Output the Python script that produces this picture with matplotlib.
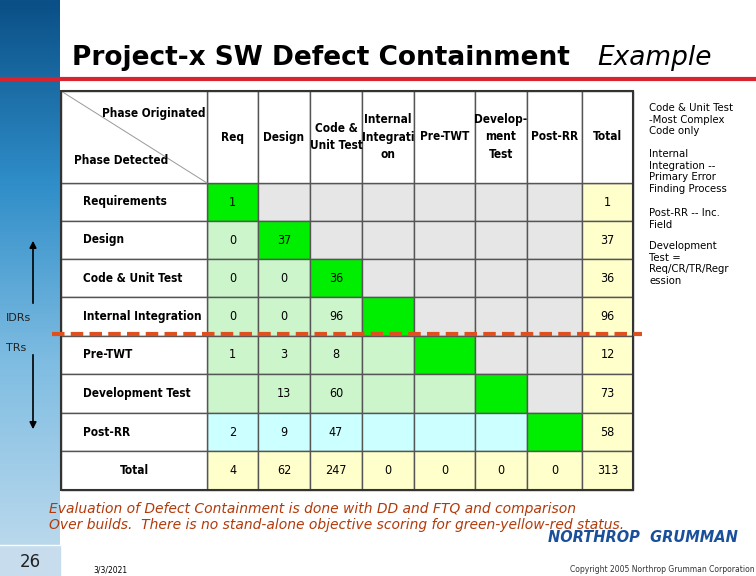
import numpy as np
import matplotlib.pyplot as plt
from matplotlib.patches import Rectangle
from matplotlib.colors import LinearSegmentedColormap

row_labels = ["Requirements", "Design", "Code & Unit Test", "Internal Integration",
              "Pre-TWT", "Development Test", "Post-RR", "Total"]
col_labels = ["Req", "Design", "Code &\nUnit Test", "Internal\nIntegrati\non",
              "Pre-TWT", "Develop-\nment\nTest", "Post-RR", "Total"]
# values per row (None = blank); last entry = Total column
values = [
    [1, None, None, None, None, None, None, 1],
    [0, 37, None, None, None, None, None, 37],
    [0, 0, 36, None, None, None, None, 36],
    [0, 0, 96, None, None, None, None, 96],
    [1, 3, 8, None, None, None, None, 12],
    [None, 13, 60, None, None, None, None, 73],
    [2, 9, 47, None, None, None, None, 58],
    [4, 62, 247, 0, 0, 0, 0, 313],
]
notes = ["Code & Unit Test\n-Most Complex\nCode only",
         "Internal\nIntegration --\nPrimary Error\nFinding Process",
         "Post-RR -- Inc.\nField",
         "Development\nTest =\nReq/CR/TR/Regr\nession"]
note_y = [103, 149, 208, 241]

TXT = dict(family="DejaVu Sans", fontstretch="condensed")

W, H = 756, 576
fig = plt.figure(figsize=(W / 100, H / 100), dpi=100)
ax = fig.add_axes([0, 0, 1, 1])
ax.set_xlim(0, W)
ax.set_ylim(H, 0)
ax.axis("off")

# left blue strip
grad = np.linspace(0, 1, 256).reshape(-1, 1)
cmap = LinearSegmentedColormap.from_list("b", ["#0a4f86", "#2f8dc8", "#7fbde2", "#b9d8ec"])
ax.imshow(grad, extent=(0, 60, 545, 0), cmap=cmap, aspect="auto", zorder=0)
ax.add_patch(Rectangle((0, 545), 60, 31, color="#c7dcec", zorder=0))
ax.plot([0, 60], [545, 545], color="white", lw=1)

ax.text(72, 58, "Project-x SW Defect Containment", fontsize=19, fontweight="bold",
        va="center", ha="left")
ax.text(597, 58, "Example", fontsize=19, style="italic", va="center", ha="left")
ax.plot([0, W], [79, 79], color="#d9232e", lw=3)

xs = [61, 207, 258, 310, 362, 414, 475, 527, 582, 633]
ys = [91, 183, 221, 259, 297, 336, 374, 413, 451, 490]
GREEN, LGREEN, CYAN, GRAY, YEL = "#00ee00", "#ccf5cc", "#ccffff", "#e6e6e6", "#ffffcc"

ax.add_patch(Rectangle((xs[0], ys[0]), xs[-1] - xs[0], ys[-1] - ys[0], fc="white", zorder=1))
for r in range(8):
    for c in range(8):
        if r == 7 or c == 7:
            col = YEL
        elif r == c:
            col = GREEN
        elif c > r:
            col = GRAY
        elif r == 6:
            col = CYAN
        else:
            col = LGREEN
        ax.add_patch(Rectangle((xs[c + 1], ys[r + 1]), xs[c + 2] - xs[c + 1],
                               ys[r + 2] - ys[r + 1], fc=col, ec="#555", lw=1, zorder=2))
        v = values[r][c]
        if v is not None:
            ax.text((xs[c + 1] + xs[c + 2]) / 2, (ys[r + 1] + ys[r + 2]) / 2, str(v),
                    ha="center", va="center", fontsize=9, zorder=3, **TXT)
    ax.add_patch(Rectangle((xs[0], ys[r + 1]), xs[1] - xs[0], ys[r + 2] - ys[r + 1],
                           fc="white", ec="#555", lw=1, zorder=2))
    cx = (xs[0] + xs[1]) / 2 if r == 7 else xs[0] + 22
    ax.text(cx, (ys[r + 1] + ys[r + 2]) / 2, row_labels[r], ha="center" if r == 7 else "left",
            va="center", fontsize=8.5, fontweight="bold", zorder=3, **TXT)
for c in range(8):
    ax.add_patch(Rectangle((xs[c + 1], ys[0]), xs[c + 2] - xs[c + 1], ys[1] - ys[0],
                           fc="white", ec="#555", lw=1, zorder=2))
    ax.text((xs[c + 1] + xs[c + 2]) / 2, (ys[0] + ys[1]) / 2, col_labels[c], ha="center",
            va="center", fontsize=8.5, fontweight="bold", linespacing=1.45, zorder=3, **TXT)
ax.add_patch(Rectangle((xs[0], ys[0]), xs[1] - xs[0], ys[1] - ys[0], fc="white", ec="#555", lw=1, zorder=2))
ax.plot([xs[0], xs[1]], [ys[0], ys[1]], color="#999", lw=0.7, zorder=3)
ax.text(xs[1] - 2, 114, "Phase Originated", ha="right", va="center", fontsize=8.5,
        fontweight="bold", zorder=3, **TXT)
ax.text(xs[0] + 13, 160, "Phase Detected", ha="left", va="center", fontsize=8.5,
        fontweight="bold", zorder=3, **TXT)
ax.add_patch(Rectangle((xs[0], ys[0]), xs[-1] - xs[0], ys[-1] - ys[0], fc="none", ec="#333", lw=1.5, zorder=4))

ax.plot([52, 642], [334, 334], color="#e0501e", lw=3, ls=(0, (3, 1.5)), zorder=5)

ax.annotate("", xy=(33, 238), xytext=(33, 306), arrowprops=dict(arrowstyle="-|>", color="black", lw=1.2))
ax.annotate("", xy=(33, 432), xytext=(33, 352), arrowprops=dict(arrowstyle="-|>", color="black", lw=1.2))
ax.text(6, 318, "IDRs", fontsize=8, color="#222", va="center")
ax.text(6, 348, "TRs", fontsize=8, color="#222", va="center")

for t, y in zip(notes, note_y):
    ax.text(649, y, t, fontsize=7.3, va="top", ha="left", linespacing=1.2)

ax.text(49, 517, "Evaluation of Defect Containment is done with DD and FTQ and comparison\n"
        "Over builds.  There is no stand-alone objective scoring for green-yellow-red status.",
        fontsize=10, style="italic", color="#b23a0a", va="center", ha="left", linespacing=1.2)
ax.text(548, 537, "NORTHROP  GRUMMAN", fontsize=10.5, fontweight="bold", style="italic",
        color="#1a4f9c", va="center")
ax.text(20, 562, "26", fontsize=12, color="#222", va="center")
ax.text(93, 570, "3/3/2021", fontsize=5.5, va="center")
ax.text(570, 570, "Copyright 2005 Northrop Grumman Corporation", fontsize=5.5, va="center", color="#333")

fig.savefig("out.png", dpi=100)
